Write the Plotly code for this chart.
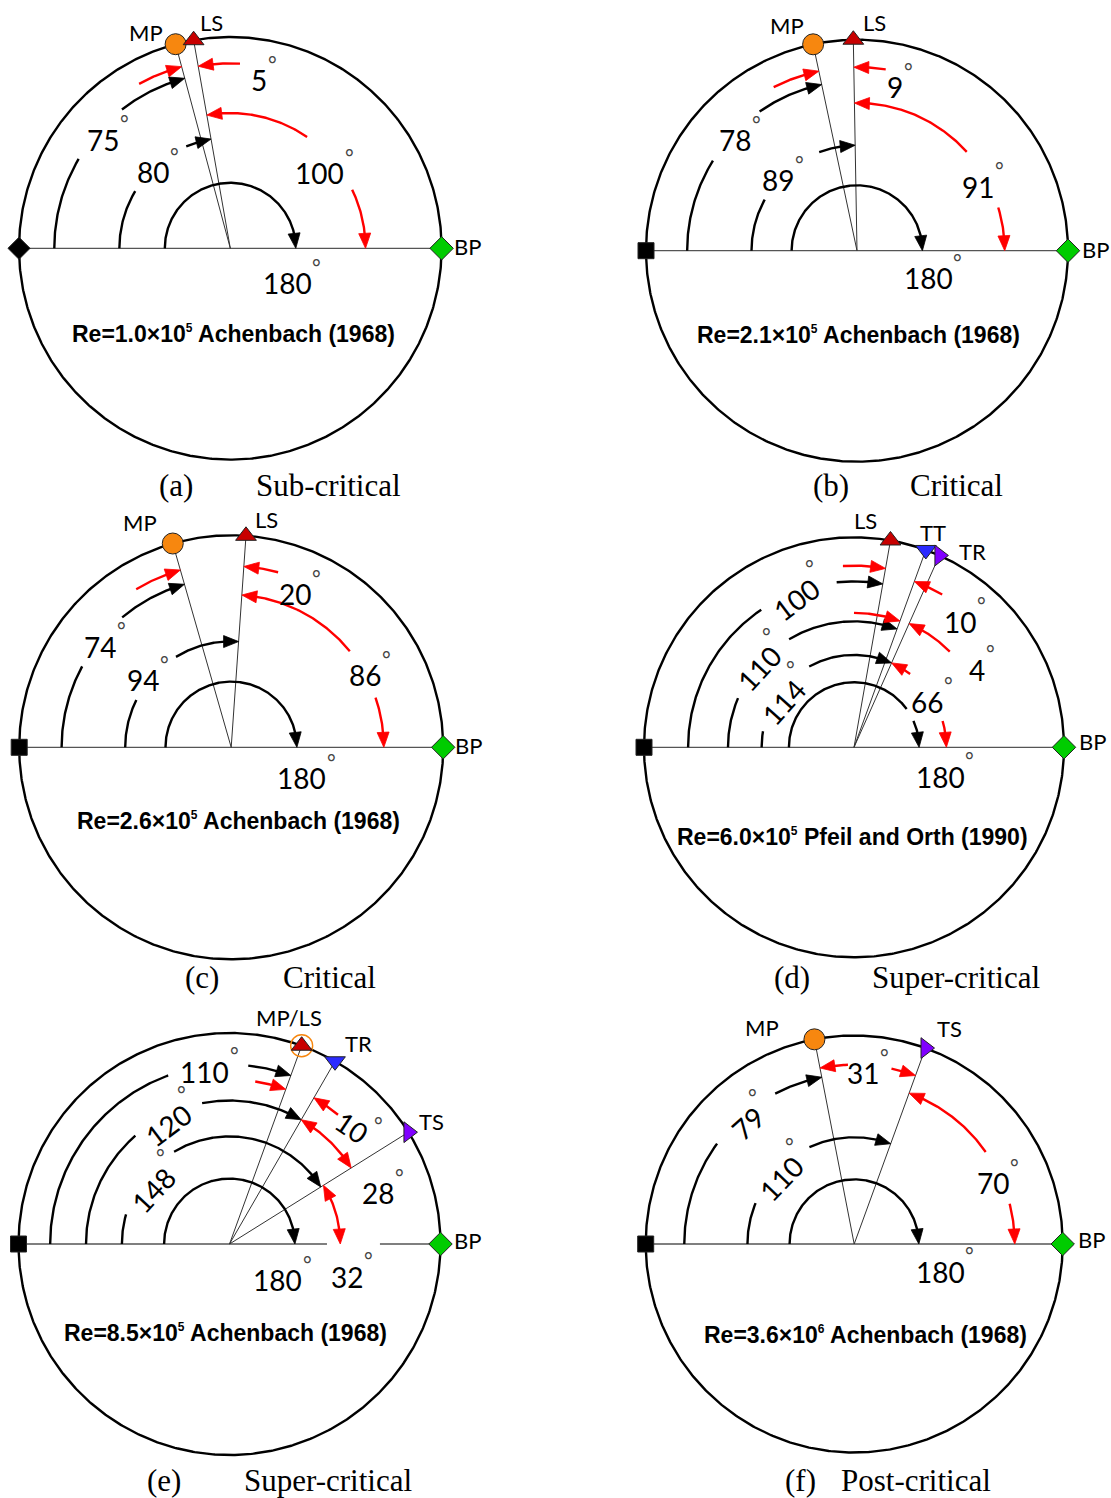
import numpy as np
import plotly.graph_objects as go

W, H = 1111, 1498

# Angular positions in degrees, measured from the front stagnation point
# (left end of the diameter) over the upper surface; BP sits at 180.
A_NAMES, A_ANGLES = ["MP", "LS"], [75, 80]
A_VALUES = [75, 80, 180, 100, 5]

B_NAMES, B_ANGLES = ["MP", "LS"], [78, 89]
B_VALUES = [78, 89, 180, 91, 9]

C_NAMES, C_ANGLES = ["MP", "LS"], [74, 94]
C_VALUES = [74, 94, 180, 86, 20]

D_NAMES, D_ANGLES = ["LS", "TT", "TR"], [100, 110, 114]
D_VALUES = [100, 110, 114, 180, 66, 10, 4]

E_NAMES, E_ANGLES = ["MP/LS", "TR", "TS"], [110, 120, 148]
E_VALUES = [110, 120, 148, 180, 10, 28, 32]

F_NAMES, F_ANGLES = ["MP", "TS"], [79, 110]
F_VALUES = [79, 110, 180, 31, 70]

RE_MANTISSA = ["1.0", "2.1", "2.6", "6.0", "8.5", "3.6"]
RE_EXPONENT = [5, 5, 5, 5, 5, 6]
SOURCES = ["Achenbach (1968)", "Achenbach (1968)", "Achenbach (1968)",
           "Pfeil and Orth (1990)", "Achenbach (1968)", "Achenbach (1968)"]
TAGS = ["(a)", "(b)", "(c)", "(d)", "(e)", "(f)"]
REGIMES = ["Sub-critical", "Critical", "Critical", "Super-critical",
           "Super-critical", "Post-critical"]

# ---------------------------------------------------------------- styling
STYLE = {
    "orange": dict(symbol="circle", color="#F7870F", size=21),
    "red": dict(symbol="triangle-up", color="#C80000", size=18),
    "blue": dict(symbol="triangle-down", color="#2B2BFF", size=18),
    "purple": dict(symbol="triangle-right", color="#8000FF", size=18),
}
BLACK, RED = "#000000", "#FF0000"
NUM_FONT = "Lato"
HEAD_LEN, HEAD_HALF = 15.0, 6.0      # arrowhead size in px

# Per-panel drawing layout: pixel box, centre, radius, arcs (colour, from,
# to, radius, gap, heads) and label placement (theta, radius, rotation).
LAYOUT = [
    dict(box=(0, 555, 0, 498), c=(230.3, 248.3), R=211.3, front="diamond",
         styles=["orange", "red"], ring=None,
         name_off=[(-30, 12), (18, 18)], bp_off=(26, 2), diam_gap=None,
         arcs=[("k", "F", "MP", .833, (30.5, 52), "end"),
               ("k", "F", "LS", .525, (31, 66.6), "end"),
               ("k", "F", "BP", .31, None, "end"),
               ("r", "BP", "LS", .64, (124.6, 154.3), "both"),
               ("r", 61, "MP", .89, None, "end"),
               ("r", 93, "LS", .875, None, "end")],
         labels=[(40.4, .791, 0), (44.6, .514, 0), (211.5, .315, 0),
                 (140, .554, 0), (99.7, .808, 0)],
         title=(233.5, 334), tag=(176, 485), regime=(328, 485)),
    dict(box=(555, 1111, 0, 498), c=(857, 250.7), R=211, front="square",
         styles=["orange", "red"], ring=None,
         name_off=[(-26, 19), (21, 17)], bp_off=(27, 1), diam_gap=None,
         arcs=[("k", "F", "MP", .805, (32, 55), "end"),
               ("k", "F", "LS", .50, (29, 69), "end"),
               ("k", "F", "BP", .31, None, "end"),
               ("r", "BP", "LS", .70, (138, 163), "both"),
               ("r", 63, "MP", .87, None, "end"),
               ("r", 99, "LS", .87, None, "end")],
         labels=[(42.2, .781, 0), (41.9, .501, 0), (201.2, .362, 0),
                 (152.2, .65, 0), (103.1, .795, 0)],
         title=(858.7, 335), tag=(831, 485), regime=(956, 485)),
    dict(box=(0, 555, 498, 996), c=(231.2, 747.3), R=212, front="square",
         styles=["orange", "red"], ring=None,
         name_off=[(-33, 21), (21, 16)], bp_off=(25, 2), diam_gap=None,
         arcs=[("k", "F", "MP", .80, (28.5, 50), "end"),
               ("k", "F", "LS", .50, (26.5, 58.6), "end"),
               ("k", "F", "BP", .31, None, "end"),
               ("r", "BP", "LS", .72, (141, 161), "both"),
               ("r", 59, "MP", .87, None, "end"),
               ("r", 105, "LS", .855, None, "end")],
         labels=[(37.5, .78, 0), (37.25, .524, 0), (203.7, .363, 0),
                 (151.6, .717, 0), (112.6, .782, 0)],
         title=(238, 820.7), tag=(202, 978), regime=(329, 978)),
    dict(box=(555, 1111, 498, 996), c=(854, 747.3), R=210, front="square",
         styles=["red", "blue", "purple"], ring=None,
         name_off=[(-25, 20), (7.5, 17), (33, 4)], bp_off=(28, 5.6),
         diam_gap=None,
         arcs=[("k", "F", "LS", .79, (56, 84), "end"),
               ("k", "F", "TT", .60, (23, 59), "end"),
               ("k", "F", "TR", .44, (10, 61), "end"),
               ("k", "F", "BP", .31, (144, 156), "end"),
               ("r", "BP", "TR", .44, (127.4, 163.5), "both"),
               ("r", 86.5, "LS", .865, None, "end"),
               ("r", 120, "TT", .84, None, "end"),
               ("r", 90, "TT", .64, None, "end"),
               ("r", 135, "TR", .645, None, "end")],
         labels=[(68.9, .757, -37), (39.8, .587, -47), (32.8, .40, -48),
                 (198.9, .433, 0), (147.9, .409, 0), (130.2, .783, 0),
                 (147.9, .693, 0)],
         title=(852.7, 837.3), tag=(791.7, 978), regime=(956, 978)),
    dict(box=(0, 555, 996, 1498), c=(229.5, 1244), R=211, front="square",
         styles=["red", "blue", "purple"], ring=0,
         name_off=[(-13, 28), (23, 18), (23, 10.5)], bp_off=(27, 4),
         diam_gap=(0.462, 0.713),
         arcs=[("k", "F", "MP/LS", .85, (70, 96), "end"),
               ("k", "F", "TR", .68, (49, 79), "end"),
               ("k", "F", "TS", .51, (16, 59), "end"),
               ("k", "F", "BP", .31, None, "end"),
               ("r", 99, "MP/LS", .78, None, "end"),
               ("r", 130, "TR", .80, None, "end"),
               ("r", "TR", "TS", .68, None, "both"),
               ("r", "TS", "BP", .525, None, "both")],
         labels=[(81.9, .825, 0), (62.8, .634, -37), (35.3, .443, -47),
                 (216.8, .285, 0), (136.2, .803, 34), (161.2, .745, 0),
                 (195.6, .577, 0)],
         title=(225, 1333.3), tag=(164, 1480), regime=(328, 1480)),
    dict(box=(555, 1111, 996, 1498), c=(854.2, 1244), R=208.5, front="square",
         styles=["orange", "purple"], ring=None,
         name_off=[(-52, 12), (24, 20)], bp_off=(29, 5), diam_gap=None,
         arcs=[("k", "F", "MP", .815, (36.2, 62.3), "end"),
               ("k", "F", "TS", .512, (22.5, 65.2), "end"),
               ("k", "F", "BP", .31, None, "end"),
               ("r", "MP", "TS", .86, (88, 102), "both"),
               ("r", "BP", "TS", .77, (145, 165.5), "both")],
         labels=[(48.7, .77, -42), (42.2, .469, -46), (197.9, .433, 0),
                 (93.05, .82, 0), (156.4, .728, 0)],
         title=(865, 1335), tag=(800, 1480), regime=(916, 1480)),
]

DATA = [(A_NAMES, A_ANGLES, A_VALUES), (B_NAMES, B_ANGLES, B_VALUES),
        (C_NAMES, C_ANGLES, C_VALUES), (D_NAMES, D_ANGLES, D_VALUES),
        (E_NAMES, E_ANGLES, E_VALUES), (F_NAMES, F_ANGLES, F_VALUES)]


def pol(theta, r):
    """Angle from the front stagnation point -> unit-circle coordinates."""
    t = np.radians(theta)
    return -r * np.cos(t), r * np.sin(t)


def add_arc(a, b, r, gap, heads, R, lines, tris):
    s = 1.0 if b > a else -1.0
    Ld = np.degrees(HEAD_LEN / (r * R))
    a0 = a + s * 0.5 * Ld if heads == "both" else a
    b0 = b - s * 0.5 * Ld
    if gap is None:
        segs = [(a0, b0)]
    else:
        lo, hi = gap
        segs = [(a0, lo), (hi, b0)] if s > 0 else [(a0, hi), (lo, b0)]
    for t0, t1 in segs:
        th = np.linspace(t0, t1, max(int(abs(t1 - t0) * 2) + 2, 3))
        x, y = pol(th, r)
        lines[0].extend(list(x) + [None])
        lines[1].extend(list(y) + [None])
    tips = [(b, -s)] + ([(a, s)] if heads == "both" else [])
    hw = HEAD_HALF / R
    for t, back in tips:
        tx, ty = pol(t, r)
        bx, by = pol(t + back * Ld, r)
        dx, dy = tx - bx, ty - by
        n = np.hypot(dx, dy)
        px, py = -dy / n * hw, dx / n * hw
        tris[0].extend([tx, bx + px, bx - px, tx, None])
        tris[1].extend([ty, by + py, by - py, ty, None])


def text(**kw):
    base = dict(showarrow=False, xanchor="center", yanchor="middle")
    base.update(kw)
    return base


fig = go.Figure()
ann = []
deg_ring = np.linspace(0, 360, 721)

for i, (lay, (names, angles, values)) in enumerate(zip(LAYOUT, DATA)):
    sfx = "" if i == 0 else str(i + 1)
    xr, yr = "x" + sfx, "y" + sfx
    bx0, bx1, by0, by1 = lay["box"]
    cx, cy = lay["c"]
    R = lay["R"]
    fig.update_layout(**{
        "xaxis" + sfx: dict(domain=[bx0 / W, bx1 / W],
                            range=[(bx0 - cx) / R, (bx1 - cx) / R],
                            visible=False, fixedrange=True, anchor=yr),
        "yaxis" + sfx: dict(domain=[1 - by1 / H, 1 - by0 / H],
                            range=[(cy - by1) / R, (cy - by0) / R],
                            visible=False, fixedrange=True, anchor=xr),
    })
    amap = {"F": 0.0, "BP": 180.0, **dict(zip(names, angles))}

    # body outline
    x, y = pol(deg_ring, 1.0)
    fig.add_trace(go.Scatter(x=x, y=y, mode="lines", xaxis=xr, yaxis=yr,
                             line=dict(color=BLACK, width=2.4), hoverinfo="skip"))
    # diameter
    if lay["diam_gap"] is None:
        dxs, dys = [-1, 1], [0, 0]
    else:
        g0, g1 = lay["diam_gap"]
        dxs, dys = [-1, g0, None, g1, 1], [0, 0, None, 0, 0]
    fig.add_trace(go.Scatter(x=dxs, y=dys, mode="lines", xaxis=xr, yaxis=yr,
                             line=dict(color="#555555", width=1.3), hoverinfo="skip"))
    # radial lines to each surface event
    rx, ry = [], []
    for a in angles:
        px_, py_ = pol(a, 1.0)
        rx += [0, px_, None]
        ry += [0, py_, None]
    fig.add_trace(go.Scatter(x=rx, y=ry, mode="lines", xaxis=xr, yaxis=yr,
                             line=dict(color="#333333", width=1), hoverinfo="skip"))

    # arcs with arrowheads
    groups = {"k": ([[], []], [[], []]), "r": ([[], []], [[], []])}
    for col, f, t, r, gap, heads in lay["arcs"]:
        a = amap[f] if isinstance(f, str) else float(f)
        b = amap[t] if isinstance(t, str) else float(t)
        add_arc(a, b, r, gap, heads, R, *groups[col])
    for col, color in (("k", BLACK), ("r", RED)):
        lines, tris = groups[col]
        fig.add_trace(go.Scatter(x=lines[0], y=lines[1], mode="lines",
                                 xaxis=xr, yaxis=yr, hoverinfo="skip",
                                 line=dict(color=color, width=2.4)))
        fig.add_trace(go.Scatter(x=tris[0], y=tris[1], mode="lines",
                                 fill="toself", fillcolor=color,
                                 xaxis=xr, yaxis=yr, hoverinfo="skip",
                                 line=dict(color=color, width=0.8)))

    # markers: front point, base point, surface events
    mx, my, sym, colr, size = [], [], [], [], []
    fx, fy = pol(0, 1.0)
    mx.append(fx); my.append(fy)
    sym.append(lay["front"]); colr.append(BLACK)
    size.append(16 if lay["front"] == "square" else 17)
    bpx, bpy = pol(180, 1.0)
    mx.append(bpx); my.append(bpy)
    sym.append("diamond"); colr.append("#00CC00"); size.append(18)
    if lay["ring"] is not None:
        rxp, ryp = pol(angles[lay["ring"]], 1.0)
        fig.add_trace(go.Scatter(x=[rxp], y=[ryp], mode="markers", xaxis=xr,
                                 yaxis=yr, hoverinfo="skip",
                                 marker=dict(symbol="circle-open", size=22,
                                             color="#F7870F", opacity=1,
                                             line=dict(width=1.4))))
    for a, st in zip(angles, lay["styles"]):
        px_, py_ = pol(a, 1.0)
        mx.append(px_); my.append(py_)
        sym.append(STYLE[st]["symbol"]); colr.append(STYLE[st]["color"])
        size.append(STYLE[st]["size"])
    fig.add_trace(go.Scatter(x=mx, y=my, mode="markers", xaxis=xr, yaxis=yr,
                             hoverinfo="skip",
                             marker=dict(symbol=sym, color=colr, size=size,
                                         opacity=1,
                                         line=dict(color="#222222", width=1))))

    # event names
    for nm, a, (ox, oy) in zip(names, angles, lay["name_off"]):
        px_, py_ = pol(a, 1.0)
        ann.append(text(x=px_, y=py_, xref=xr, yref=yr, text=nm,
                        xshift=ox, yshift=oy,
                        font=dict(family=NUM_FONT, size=22, color=BLACK)))
    ann.append(text(x=bpx, y=bpy, xref=xr, yref=yr, text="BP",
                    xshift=lay["bp_off"][0], yshift=lay["bp_off"][1],
                    font=dict(family=NUM_FONT, size=22, color=BLACK)))

    # angle values with degree marks
    for v, (th, r, rot) in zip(values, lay["labels"]):
        lx, ly = pol(th, r)
        ann.append(text(x=lx, y=ly, xref=xr, yref=yr, text=str(v),
                        textangle=rot,
                        font=dict(family=NUM_FONT, size=28, color=BLACK)))
        half = len(str(v)) * 0.58 * 28 / 2 + 5
        oxp, oyp = half, -17
        ca, sa = np.cos(np.radians(rot)), np.sin(np.radians(rot))
        sx = oxp * ca - oyp * sa
        sy = oxp * sa + oyp * ca
        ann.append(text(x=lx, y=ly, xref=xr, yref=yr, text="°",
                        xshift=sx, yshift=-sy,
                        font=dict(family=NUM_FONT, size=21, color="#444444")))

    # case title and regime caption
    tx, ty = lay["title"]
    ann.append(text(x=tx / W, y=1 - ty / H, xref="paper", yref="paper",
                    text=(f"<b>Re={RE_MANTISSA[i]}×10<sup><span style='font-size:12px'>"
                          f"{RE_EXPONENT[i]}</span></sup> {SOURCES[i]}</b>"),
                    font=dict(family="Liberation Sans, Arial", size=23, color=BLACK)))
    for key, txt in (("tag", TAGS[i]), ("regime", REGIMES[i])):
        px_, py_ = lay[key]
        ann.append(text(x=px_ / W, y=1 - py_ / H, xref="paper", yref="paper",
                        text=txt,
                        font=dict(family="Liberation Serif, Times New Roman",
                                  size=31, color=BLACK)))

fig.update_layout(width=W, height=H, margin=dict(l=0, r=0, t=0, b=0),
                  paper_bgcolor="white", plot_bgcolor="white",
                  showlegend=False, annotations=ann)
fig.write_html("out.html")
